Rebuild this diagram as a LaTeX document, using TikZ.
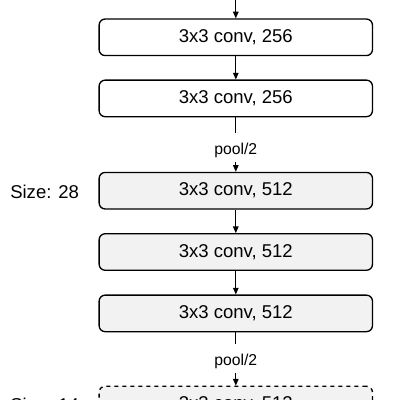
\documentclass[tikz,border=0pt]{standalone}
\usepackage{fontspec}
\setmainfont{Liberation Sans}
\usetikzlibrary{arrows.meta}
\definecolor{boxgray}{HTML}{F2F2F2}
\begin{document}
\begin{tikzpicture}[x=0.75pt,y=-0.75pt,
  layerbox/.style={draw=black, line width=1pt, rounded corners=4.5pt,
    minimum width=205pt, minimum height=27.4pt, inner sep=0pt,
    font=\fontsize{13.9}{16}\selectfont, fill=white},
  graybox/.style={fill=boxgray},
  poolnode/.style={inner sep=0pt, minimum height=21.75pt,
    text height=13pt, text depth=2.5pt,
    font=\fontsize{11.8}{14}\selectfont},
  sizelabel/.style={inner sep=0pt, anchor=west, font=\fontsize{13.9}{16}\selectfont},
  conn/.style={line width=0.75pt, draw=black},
  arr/.style={conn, -{Triangle[length=5pt,width=4.2pt]}}
]
\useasboundingbox (0,0) rectangle (400,400);
\clip (0,0) rectangle (400,400);

\coordinate (top) at (235.8,0);
\node[layerbox] (b1) at (235.8,37.3) {3x3 conv, 256};
\node[layerbox] (b2) at (235.8,98.4) {3x3 conv, 256};
\node[poolnode] (p1) at (235.8,147.5) {pool/2};
\node[layerbox,graybox] (b3) at (235.8,190.7) {3x3 conv, 512};
\node[layerbox,graybox] (b4) at (235.8,252) {3x3 conv, 512};
\node[layerbox,graybox] (b5) at (235.8,313.4) {3x3 conv, 512};
\node[poolnode] (p2) at (235.8,358.5) {pool/2};
\node[layerbox,graybox,dashed] (b6) at (235.8,404.5) {3x3 conv, 512};

\node[sizelabel] (s28) at (10,191.5) {Size: 28};
\node[sizelabel] (s14) at (10,404.5) {Size: 14};

\draw[arr] (top) -- (b1);
\draw[arr] (b1) -- (b2);
\draw[conn] (b2) -- (p1);
\draw[arr] (p1) -- (b3);
\draw[arr] (b3) -- (b4);
\draw[arr] (b4) -- (b5);
\draw[conn] (b5) -- (p2);
\draw[arr] (p2) -- (b6);
\end{tikzpicture}
\end{document}
